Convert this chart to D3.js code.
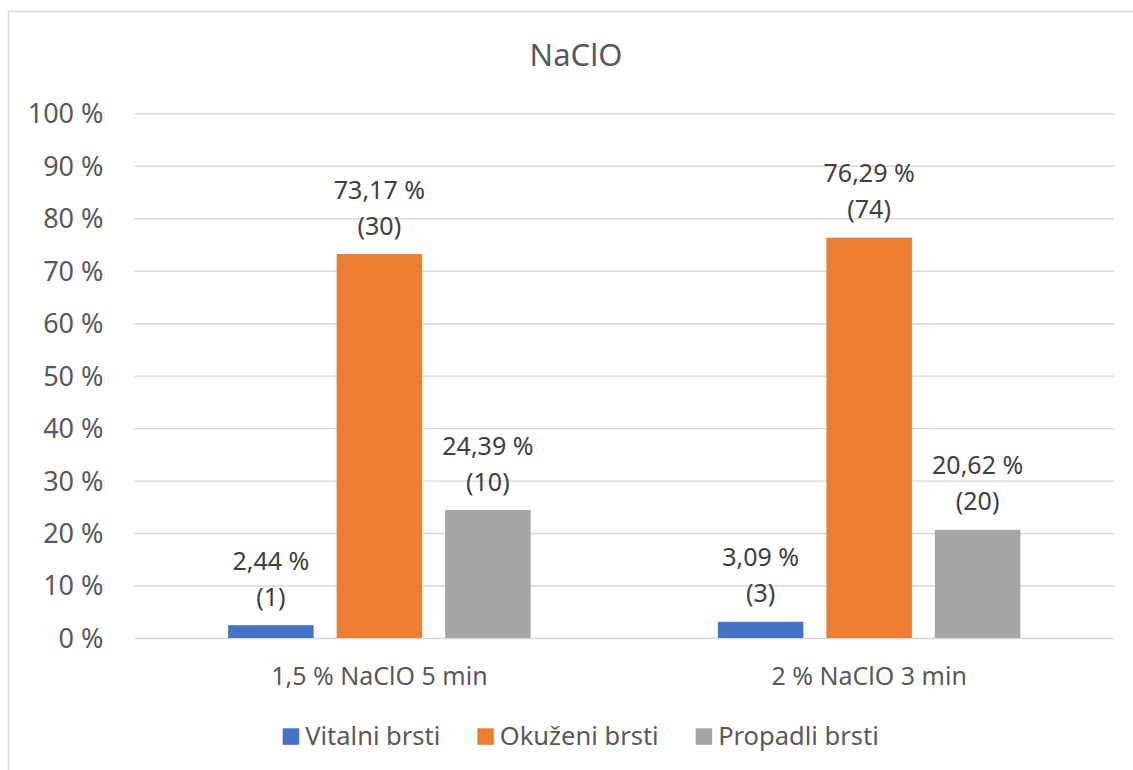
<!DOCTYPE html>
<html>
<head>
<meta charset="utf-8">
<script src="https://cdn.jsdelivr.net/npm/d3@7"></script>
<style>
  html, body { margin: 0; padding: 0; background: #fff; }
  svg text { font-family: "Noto Sans", "Open Sans", sans-serif; }
</style>
</head>
<body>
<svg id="chart" width="1133" height="770"></svg>
<script>
// Treatments (x categories)
const categories = ["1,5 % NaClO 5 min", "2 % NaClO 3 min"];
// Series names, shown in the legend
const seriesNames = ["Vitalni brsti", "Okuženi brsti", "Propadli brsti"];
// Share of shoots per treatment, in percent
const vitalni = [2.44, 3.09];
const okuzeni = [73.17, 76.29];
const propadli = [24.39, 20.62];
// Shoot counts shown under each percentage
const vitalniCount = [1, 3];
const okuzeniCount = [30, 74];
const propadliCount = [10, 20];
// Y-axis ticks
const yTicks = [0, 10, 20, 30, 40, 50, 60, 70, 80, 90, 100];
const chartTitle = "NaClO";

const colors = ["#4472c4", "#ed7d31", "#a5a5a5"];
const seriesValues = [vitalni, okuzeni, propadli];
const seriesCounts = [vitalniCount, okuzeniCount, propadliCount];

const svg = d3.select("#chart");
const plot = { left: 134.5, right: 1114, top: 113.3, bottom: 638 };

// Outer chart frame
svg.append("rect")
  .attr("x", 8.5).attr("y", 11.5)
  .attr("width", 1136).attr("height", 770)
  .attr("fill", "#fff")
  .attr("stroke", "#d9d9d9").attr("stroke-width", 1.5);

// Title
svg.append("text")
  .attr("x", 576).attr("y", 66)
  .attr("text-anchor", "middle")
  .attr("fill", "#595959")
  .attr("font-size", 31)
  .text(chartTitle);

const y = d3.scaleLinear().domain([0, 100]).range([plot.bottom, plot.top]);

const x0 = d3.scaleBand()
  .domain(categories)
  .range([plot.left, plot.right])
  .paddingInner(0.3823)
  .paddingOuter(0.3823 / 2);

const x1 = d3.scaleBand()
  .domain(d3.range(seriesNames.length))
  .range([0, x0.bandwidth()])
  .paddingInner(0.212)
  .paddingOuter(0);

// Horizontal gridlines and percentage labels
const yAxis = d3.axisLeft(y)
  .tickValues(yTicks)
  .tickSize(-(plot.right - plot.left))
  .tickPadding(31)
  .tickFormat(d => d + " %");

const gy = svg.append("g")
  .attr("transform", `translate(${plot.left},0)`)
  .call(yAxis);
gy.select(".domain").remove();
gy.selectAll(".tick line")
  .attr("stroke", "#d9d9d9")
  .attr("stroke-width", 1.4);
gy.selectAll(".tick text")
  .attr("fill", "#595959")
  .attr("font-size", 27)
  .attr("dy", "0.35em");

// Category labels
const xAxis = d3.axisBottom(x0).tickSize(0).tickPadding(0);
const gx = svg.append("g")
  .attr("transform", `translate(0,${plot.bottom})`)
  .call(xAxis);
gx.select(".domain").remove();
gx.selectAll(".tick text")
  .attr("fill", "#595959")
  .attr("font-size", 25)
  .attr("dy", 0)
  .attr("y", 47);

// Bars grouped by treatment
const rows = [];
categories.forEach((c, ci) => {
  seriesNames.forEach((s, si) => {
    rows.push({ cat: c, si, value: seriesValues[si][ci], count: seriesCounts[si][ci] });
  });
});

svg.append("g")
  .selectAll("rect")
  .data(rows)
  .join("rect")
  .attr("x", d => x0(d.cat) + x1(d.si))
  .attr("y", d => y(d.value))
  .attr("width", x1.bandwidth())
  .attr("height", d => y(0) - y(d.value))
  .attr("fill", d => colors[d.si]);

// Data labels: percentage and count on two lines
const fmt = v => v.toFixed(2).replace(".", ",") + " %";
const lab = svg.append("g")
  .attr("font-size", 25)
  .attr("fill", "#404040")
  .attr("text-anchor", "middle");
rows.forEach(d => {
  const cx = x0(d.cat) + x1(d.si) + x1.bandwidth() / 2;
  const top = y(d.value);
  lab.append("text").attr("x", cx).attr("y", top - 55.5).text(fmt(d.value));
  lab.append("text").attr("x", cx).attr("y", top - 19.5).text("(" + d.count + ")");
});

// Legend, centred below the plot
const legend = svg.append("g");
const sq = 16.5, txtGap = 6, itemGap = 37;
const items = seriesNames.map((name, i) => {
  const g = legend.append("g");
  g.append("rect")
    .attr("x", 0).attr("y", 728.3)
    .attr("width", sq).attr("height", sq)
    .attr("fill", colors[i]);
  const t = g.append("text")
    .attr("x", sq + txtGap).attr("y", 745)
    .attr("fill", "#595959")
    .attr("font-size", 25.5)
    .text(name);
  return { g, w: sq + txtGap + t.node().getComputedTextLength() };
});
const total = d3.sum(items, d => d.w) + itemGap * (items.length - 1);
let lx = 580.7 - total / 2;
items.forEach(it => {
  it.g.attr("transform", `translate(${lx},0)`);
  lx += it.w + itemGap;
});
</script>
</body>
</html>
